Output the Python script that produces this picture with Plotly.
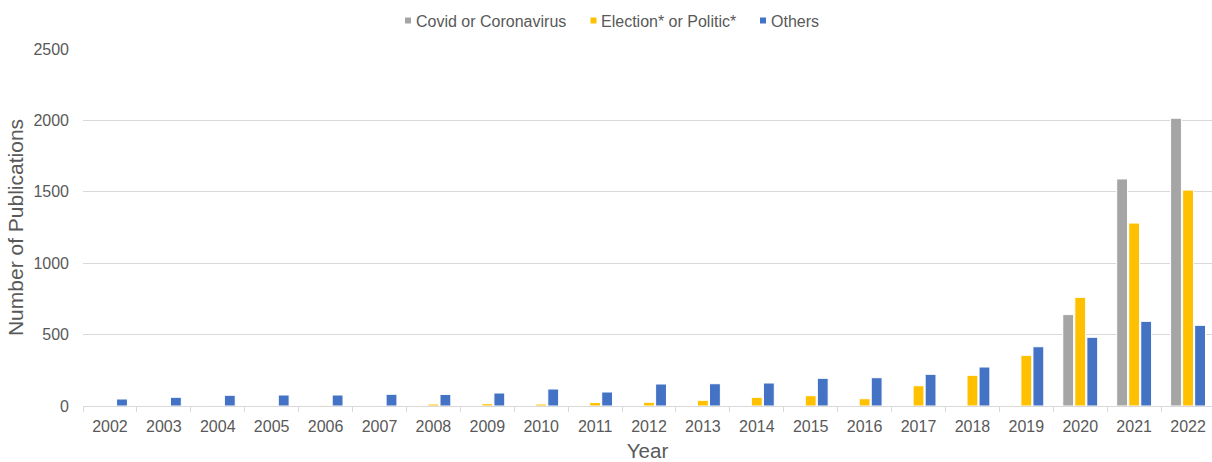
import plotly.graph_objects as go

years = [str(y) for y in range(2002, 2023)]
covid = [0, 0, 0, 0, 0, 0, 0, 0, 0, 0, 0, 0, 0, 0, 0, 0, 0, 0, 640, 1590, 2015]
election = [0, 0, 4, 0, 5, 4, 14, 16, 14, 24, 26, 40, 61, 72, 51, 142, 215, 355, 761, 1281, 1512]
others = [49, 61, 75, 77, 77, 82, 81, 91, 119, 98, 154, 156, 161, 194, 198, 222, 273, 415, 481, 593, 565]

series_names = ["Covid or Coronavirus", "Election* or Politic*", "Others"]
series_values = [covid, election, others]
colors = ["#a5a5a5", "#ffc000", "#4472c4"]

FONT = "Liberation Sans, Arial, sans-serif"
TEXT = "#595959"

W, H = 1212, 462
ML, MR, MT, MB = 83, 0, 49, 56
PW, PH = W - ML - MR, H - MT - MB


def px2x(px):
    return (px - ML) / PW


def px2y(py):
    return (H - MB - py) / PH


fig = go.Figure()
for name, vals, col in zip(series_names, series_values, colors):
    fig.add_trace(go.Bar(
        x=years, y=vals, name=name, showlegend=False,
        marker=dict(color=col, line=dict(color="white", width=1)),
    ))

# compact legend row: small square key followed by its label
key_left = [405, 590.5, 760]
shapes, annotations = [], []
for name, col, kx in zip(series_names, colors, key_left):
    shapes.append(dict(
        type="rect", xref="paper", yref="paper", layer="above",
        x0=px2x(kx), x1=px2x(kx + 6), y0=px2y(23.5), y1=px2y(17.5),
        fillcolor=col, line=dict(width=0),
    ))
    annotations.append(dict(
        xref="paper", yref="paper", x=px2x(kx + 9.5), y=px2y(21),
        xanchor="left", yanchor="middle", showarrow=False,
        text=name, font=dict(size=16, color=TEXT), borderpad=0,
    ))

fig.update_layout(
    width=W, height=H,
    margin=dict(l=ML, r=MR, t=MT, b=MB, autoexpand=False),
    paper_bgcolor="white", plot_bgcolor="white",
    font=dict(family=FONT, color=TEXT, size=16),
    barmode="group", bargap=0.33, bargroupgap=0.1,
    showlegend=False,
    shapes=shapes, annotations=annotations,
    xaxis=dict(
        type="category", showgrid=False,
        range=[-0.5, 20.5 - 3 / 53.9],
        showline=True, linecolor="#d9d9d9", linewidth=1,
        ticks="outside", tickson="boundaries", ticklen=5, tickcolor="#d9d9d9",
        ticklabelstandoff=6,
        tickfont=dict(size=16, color=TEXT),
        title=dict(text="Year", font=dict(size=20.5, color=TEXT), standoff=9),
    ),
    yaxis=dict(
        range=[0, 2500], dtick=500, tick0=0,
        showgrid=True, gridcolor="#d9d9d9", gridwidth=1,
        zeroline=False, showline=False,
        ticks="", ticklabelstandoff=13,
        tickfont=dict(size=16, color=TEXT),
        title=dict(text="Number of Publications", font=dict(size=21, color=TEXT), standoff=4),
    ),
)

fig.write_html("out.html")
